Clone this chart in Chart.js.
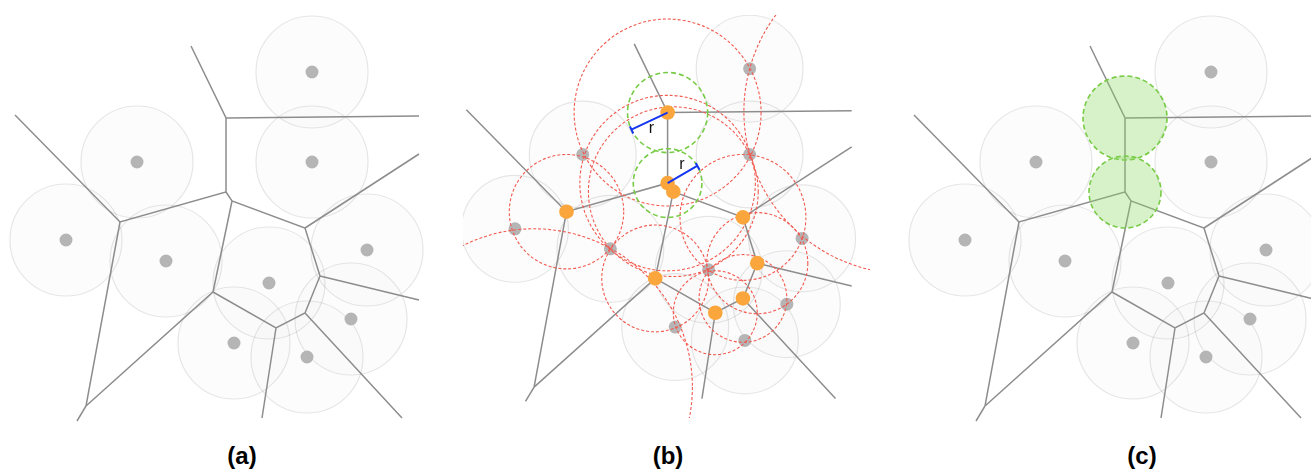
<!DOCTYPE html>
<html>
<head>
<meta charset="utf-8">
<script src="https://cdn.jsdelivr.net/npm/chart.js@4.4.1/dist/chart.umd.min.js"></script>
<style>
    body { margin: 0; background: #fff; width: 1311px; height: 472px; position: relative; overflow: hidden; font-family: "Liberation Sans", Arial, sans-serif; }
    canvas { position: absolute; }
    .label { position: absolute; top: 442px; width: 80px; margin-left: -40px; text-align: center; font-weight: bold; font-size: 24px; line-height: 28px; color: #000; }
</style>
</head>
<body>
<canvas id="chartA" width="437" height="430" style="left:0;top:0"></canvas>
<canvas id="chartB" width="407" height="403" style="left:463px;top:15px"></canvas>
<canvas id="chartC" width="437" height="430" style="left:899px;top:0"></canvas>
<div class="label" style="left:242px">(a)</div>
<div class="label" style="left:668px">(b)</div>
<div class="label" style="left:1142px">(c)</div>

<script>
// sites (panel units), all discs share one radius
const siteX = [312, 312, 137, 66, 166, 269, 367, 351, 234, 307];
const siteY = [72, 162, 162, 240, 261, 283, 250, 319, 343, 357];
const siteRadius = 56;

// voronoi edges, each one a polyline
const edgePaths = [
    [[15, 115], [120, 222], [226, 192], [226, 118], [191, 46]],
    [[226, 118], [419, 116]],
    [[120, 222], [86, 406], [77, 421]],
    [[86, 406], [213, 292], [276, 328], [305, 313], [320, 276], [305, 228], [232, 201], [226, 192]],
    [[232, 201], [213, 292]],
    [[305, 228], [419, 154]],
    [[320, 276], [419, 300]],
    [[305, 313], [402, 418]],
    [[276, 328], [262, 418]]
];

// voronoi vertices shown in (b)
const vertexX = [226, 226, 232, 120, 305, 320, 305, 276, 213];
const vertexY = [118, 192, 201, 222, 228, 276, 313, 328, 292];

// empty circles (red, dashed) in (b)
const ringX = [226, 226, 232, 120, 305, 320, 305, 276, 213, 86, 476];
const ringY = [118, 192, 201, 222, 228, 276, 313, 328, 292, 406, 117];
const ringR = [98, 92, 89, 60, 66, 53, 46, 44, 56, 166, 170];

// r-discs (green)
const greenX = [226, 226];
const greenY = [118, 192];
const greenR = [42, 36];

// radius markers in (b)
const rLines = [[[226, 118], [188, 136]], [[226, 192], [257, 174]]];
const rTicks = [[[190, 140], [186.5, 132.5]], [[259.5, 178], [255.5, 171]]];
const rLabelX = [209, 241];
const rLabelY = [135, 173];

const extras = {};

const ringsPlugin = {
    id: 'rings',
    afterDatasetDraw(chart, args) {
        const ds = chart.data.datasets[args.index];
        if (ds.label !== 'sites') return;
        const ex = extras[chart.canvas.id];
        if (!ex) return;
        const sx = chart.scales.x, sy = chart.scales.y;
        const unit = Math.abs(sx.getPixelForValue(1) - sx.getPixelForValue(0));
        const ctx = chart.ctx;
        ctx.save();
        ex.rings.forEach(g => {
            g.x.forEach((x, i) => {
                ctx.beginPath();
                ctx.arc(sx.getPixelForValue(x), sy.getPixelForValue(g.y[i]), g.r[i] * unit, 0, Math.PI * 2);
                if (g.fill) {
                    ctx.fillStyle = g.fill;
                    ctx.fill();
                }
                ctx.setLineDash(g.dash);
                ctx.lineWidth = g.width;
                ctx.strokeStyle = g.color;
                ctx.stroke();
            });
        });
        ctx.restore();
    },
    afterDraw(chart) {
        const ex = extras[chart.canvas.id];
        if (!ex || !ex.labels) return;
        const sx = chart.scales.x, sy = chart.scales.y;
        const ctx = chart.ctx;
        ctx.save();
        ctx.fillStyle = '#111';
        ctx.font = '16px "Liberation Sans", Arial, sans-serif';
        ctx.textAlign = 'center';
        ctx.textBaseline = 'middle';
        ex.labels.x.forEach((x, i) => {
            ctx.fillText('r', sx.getPixelForValue(x), sy.getPixelForValue(ex.labels.y[i]));
        });
        ctx.restore();
    }
};

function segData(list) {
    const pts = [];
    list.forEach(seg => {
        seg.forEach(p => pts.push({ x: p[0], y: p[1] }));
        pts.push({ x: null, y: null });
    });
    return pts;
}

const sites = siteX.map((x, i) => ({ x: x, y: siteY[i] }));

function makeChart(id, range, withB) {
    const datasets = [
        {
            label: 'discs',
            data: sites,
            pointRadius: c => siteRadius * Math.abs(c.chart.scales.x.getPixelForValue(1) - c.chart.scales.x.getPixelForValue(0)),
            backgroundColor: 'rgba(0,0,0,0.012)',
            borderColor: 'rgba(0,0,0,0.1)',
            pointBorderWidth: 1.2,
            clip: false,
            order: 10
        },
        {
            label: 'edges',
            data: segData(edgePaths),
            showLine: true,
            pointRadius: 0,
            borderColor: '#8d8d8d',
            borderWidth: 1.5,
            clip: false,
            order: 9
        },
        {
            label: 'sites',
            data: sites,
            pointRadius: 6.5,
            backgroundColor: '#b5b5b5',
            borderWidth: 0,
            order: 8
        }
    ];
    if (withB) {
        datasets.push({
            label: 'vertices',
            data: vertexX.map((x, i) => ({ x: x, y: vertexY[i] })),
            pointRadius: 7.3,
            backgroundColor: '#fba63c',
            borderWidth: 0,
            order: 3
        });
        datasets.push({
            label: 'r',
            data: segData(rLines.concat(rTicks)),
            showLine: true,
            pointRadius: 0,
            borderColor: '#1536f0',
            borderWidth: 2,
            order: 1
        });
    }
    new Chart(document.getElementById(id), {
        type: 'scatter',
        data: { datasets: datasets },
        options: {
            responsive: false,
            animation: false,
            events: [],
            layout: { padding: 0, autoPadding: false },
            plugins: { legend: { display: false }, tooltip: { enabled: false } },
            scales: {
                x: { type: 'linear', display: false, min: range[0], max: range[1] },
                y: { type: 'linear', display: false, reverse: true, min: range[2], max: range[3] }
            }
        },
        plugins: [ringsPlugin]
    });
}

extras.chartB = {
    rings: [
        { x: ringX, y: ringY, r: ringR, color: '#f2594f', dash: [3, 2], width: 1.1 },
        { x: greenX, y: greenY, r: greenR, color: '#78cc45', dash: [5, 3], width: 1.6 }
    ],
    labels: { x: rLabelX, y: rLabelY }
};
extras.chartC = {
    rings: [
        { x: greenX, y: greenY, r: greenR, color: '#78cc45', dash: [5, 3], width: 1.6, fill: 'rgba(140,215,100,0.35)' }
    ]
};

makeChart('chartA', [0, 437, 0, 430], false);
makeChart('chartB', [11.5, 438.2, 15.7, 438.4], true);
makeChart('chartC', [0, 437, 0, 430], false);
</script>
</body>
</html>
